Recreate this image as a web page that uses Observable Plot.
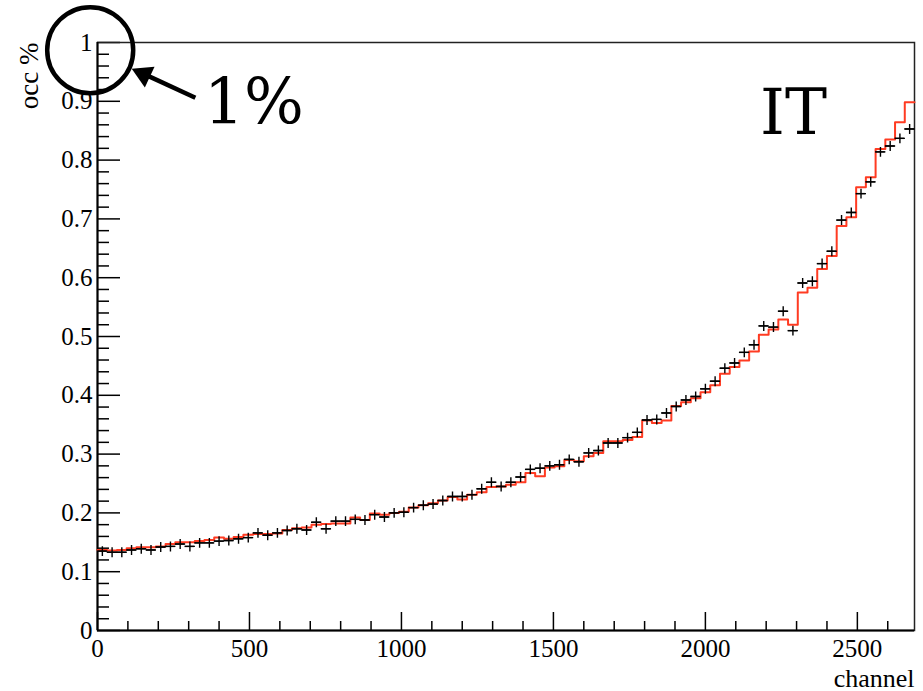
<!DOCTYPE html>
<html><head><meta charset="utf-8">
<script src="https://cdn.jsdelivr.net/npm/d3@7"></script>
<script src="https://cdn.jsdelivr.net/npm/@observablehq/plot@0.6"></script>
<style>body{margin:0;background:#fff}svg{display:block}</style>
</head><body><div id="chart"></div>
<script>
// histogram binning (channels per bin)
const binWidth = 32;
// red: simulated occupancy per bin (%)
const simOcc = [0.137,0.136,0.137,0.140,0.1417,0.1417,0.143,0.147,0.150,0.150,
0.152,0.154,0.158,0.156,0.159,0.163,0.164,0.164,0.165,0.171,
0.174,0.175,0.180,0.181,0.182,0.182,0.192,0.188,0.199,0.197,
0.200,0.202,0.209,0.213,0.2165,0.221,0.227,0.223,0.231,0.235,
0.244,0.245,0.248,0.252,0.268,0.2625,0.277,0.2795,0.290,0.288,
0.2965,0.302,0.322,0.322,0.324,0.329,0.357,0.353,0.357,0.382,
0.388,0.395,0.405,0.417,0.4365,0.448,0.459,0.4745,0.503,0.512,
0.529,0.520,0.575,0.583,0.615,0.637,0.688,0.703,0.754,0.771,
0.819,0.835,0.8645,0.8985];
// black: measured occupancy per bin (%)
const dataOcc = [0.135,0.133,0.133,0.137,0.139,0.137,0.142,0.143,0.147,0.143,
0.149,0.149,0.152,0.153,0.156,0.158,0.166,0.162,0.166,0.170,
0.173,0.171,0.184,0.173,0.186,0.186,0.189,0.188,0.197,0.193,
0.200,0.201,0.209,0.213,0.215,0.221,0.228,0.228,0.231,0.241,
0.252,0.245,0.252,0.261,0.274,0.276,0.280,0.282,0.291,0.287,
0.302,0.306,0.319,0.319,0.328,0.337,0.358,0.359,0.370,0.381,
0.392,0.398,0.411,0.424,0.446,0.455,0.473,0.486,0.518,0.516,
0.543,0.510,0.591,0.594,0.624,0.645,0.698,0.711,0.743,0.763,
0.814,0.824,0.837,0.853];
const xMajorTicks = [0,500,1000,1500,2000,2500];
const xMinorTicks = [100,200,300,400,600,700,800,900,1100,1200,1300,1400,1600,1700,1800,1900,2100,2200,2300,2400,2600];
const yMajorTicks = [0,0.1,0.2,0.3,0.4,0.5,0.6,0.7,0.8,0.9,1];
const yMinorTicks = d3.range(1,50).map(i => i/50).filter((v,i) => (i+1) % 5 !== 0);
const xLabel = "channel";
const yLabel = "occ %";
// annotations (in data coordinates)
const circleNote = [{x: -24, y: 0.987}];
const arrowLine = [{x1: 322, y1: 0.906, x2: 150, y2: 0.947}];
const arrowHead = [{x: 152, y: 0.946, angle: -65}];
const textNotes = [{x: 350, y: 0.862, text: "1%"}, {x: 2180, y: 0.845, text: "IT"}];

const nBins = simOcc.length;
const xMax = nBins * binWidth;
const simSteps = simOcc.map((v,i) => ({x: i*binWidth, y: v})).concat([{x: xMax, y: simOcc[nBins-1]}]);
const points = dataOcc.map((v,i) => ({lo: i*binWidth, hi: (i+1)*binWidth, c: (i+0.5)*binWidth, y: v}));

const serif = "Liberation Serif";
const chart = Plot.plot({
  width: 923, height: 691,
  marginLeft: 97, marginRight: 9, marginTop: 42, marginBottom: 61,
  style: {fontFamily: serif, background: "#fff", color: "#000"},
  x: {domain: [0, xMax]},
  y: {domain: [0, 1]},
  marks: [
    // axis ticks pointing inward
    Plot.axisY(yMajorTicks, {anchor: "left", tickSize: 23, dx: 23, tickFormat: () => "", label: null, strokeWidth: 1.5}),
    Plot.axisY(yMinorTicks, {anchor: "left", tickSize: 12, dx: 12, tickFormat: () => "", label: null, strokeWidth: 1.5}),
    Plot.axisX(xMajorTicks, {anchor: "bottom", tickSize: 18, dy: -18, tickFormat: () => "", label: null, strokeWidth: 1.5}),
    Plot.axisX(xMinorTicks, {anchor: "bottom", tickSize: 9, dy: -9, tickFormat: () => "", label: null, strokeWidth: 1.5}),
    // tick labels
    Plot.axisY(yMajorTicks, {anchor: "left", tickSize: 0, tickPadding: 5, tickFormat: d => String(d), label: null, fontSize: 25, fontFamily: serif}),
    Plot.axisX(xMajorTicks, {anchor: "bottom", tickSize: 0, tickPadding: 9, tickFormat: d => String(d), label: null, fontSize: 25, fontFamily: serif}),
    Plot.frame({stroke: "#222", strokeWidth: 1.5}),
    Plot.ruleY([0], {stroke: "#000", strokeWidth: 2}),
    Plot.ruleX([0], {stroke: "#000", strokeWidth: 2}),
    // simulation histogram
    Plot.line(simSteps, {x: "x", y: "y", curve: "step-after", stroke: "#ff3b22", strokeWidth: 2}),
    // data points with bin-width error bars
    Plot.ruleY(points, {x1: "lo", x2: "hi", y: "y", stroke: "#000", strokeWidth: 1.4}),
    Plot.dot(points, {x: "c", y: "y", symbol: "plus", r: 3.3, stroke: "#000", strokeWidth: 1.4}),
    // axis titles
    Plot.text([xLabel], {frameAnchor: "bottom-right", dy: 56, textAnchor: "end", lineAnchor: "bottom", fontSize: 26, fontFamily: serif}),
    Plot.text([yLabel], {frameAnchor: "top-left", dx: -60, rotate: -90, textAnchor: "end", lineAnchor: "bottom", fontSize: 27, fontFamily: serif}),
    // annotations
    Plot.dot(circleNote, {x: "x", y: "y", r: 43, stroke: "#000", strokeWidth: 4.5, fill: "none"}),
    Plot.link(arrowLine, {x1: "x1", y1: "y1", x2: "x2", y2: "y2", stroke: "#000", strokeWidth: 4.5, strokeLinecap: "butt"}),
    Plot.dot(arrowHead, {x: "x", y: "y", symbol: "triangle", r: 8.5, rotate: "angle", fill: "#000", stroke: "none"}),
    Plot.text(textNotes, {x: "x", y: "y", text: "text", textAnchor: "start", lineAnchor: "bottom", fontSize: 63, fontFamily: "DejaVu Serif", fill: "#000"})
  ]
});
document.getElementById("chart").append(chart);
</script>
</body></html>
